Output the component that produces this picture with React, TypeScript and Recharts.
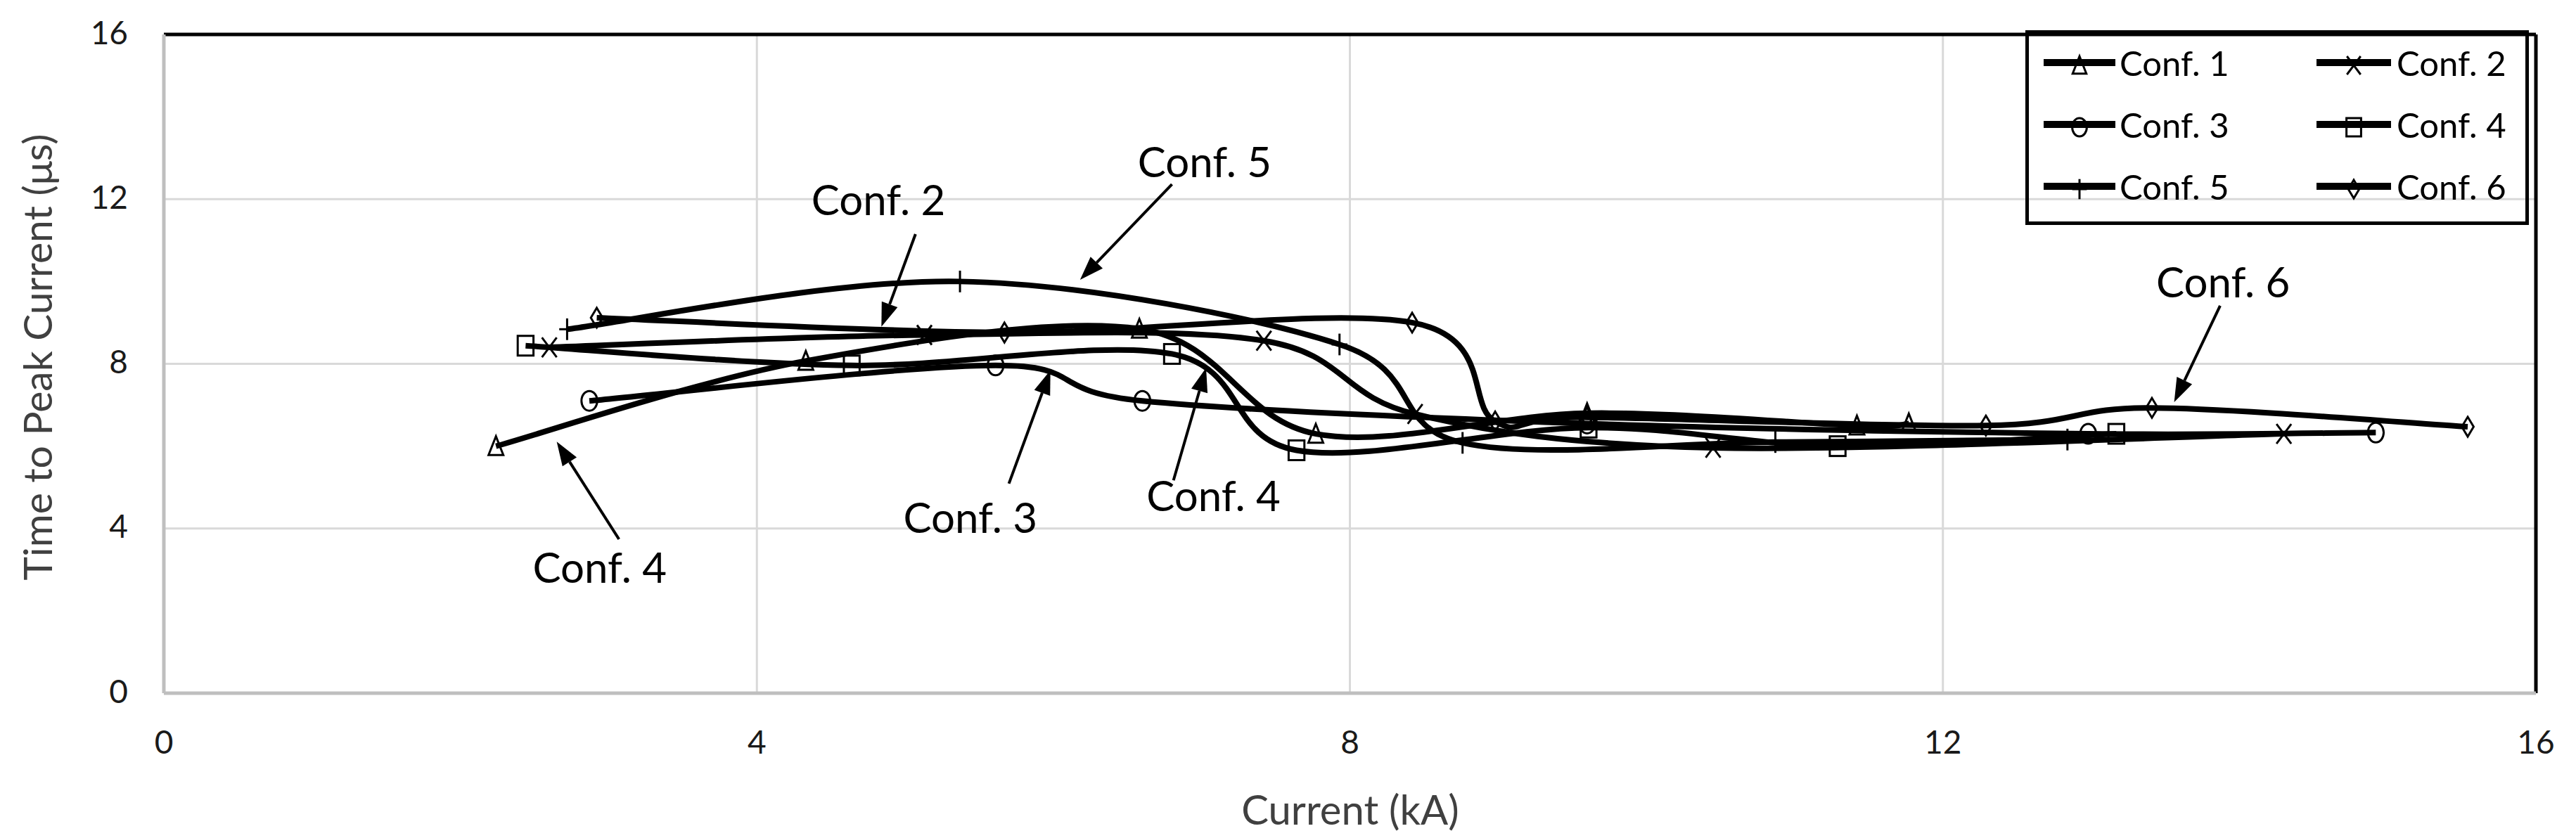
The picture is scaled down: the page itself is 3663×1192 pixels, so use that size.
import React from 'react';
import {
  LineChart,
  Line,
  XAxis,
  YAxis,
  CartesianGrid,
  ReferenceLine,
  ReferenceDot,
  Legend,
} from 'recharts';

// ---------- data ----------
const conf1X = [2.24, 4.33, 6.58, 7.77, 9.6, 11.42, 11.77];
const conf1Y = [6.0, 8.07, 8.85, 6.3, 6.8, 6.5, 6.55];

const conf2X = [2.6, 5.13, 7.42, 8.44, 10.45, 14.3];
const conf2Y = [8.4, 8.7, 8.56, 6.78, 5.96, 6.3];

const conf3X = [2.87, 5.61, 6.6, 9.6, 12.98, 14.92];
const conf3Y = [7.1, 7.96, 7.1, 6.55, 6.3, 6.33];

const conf4X = [2.44, 4.64, 6.8, 7.64, 9.61, 11.29, 13.17];
const conf4Y = [8.44, 7.96, 8.24, 5.9, 6.45, 6.0, 6.3];

const conf5X = [2.72, 5.37, 7.93, 8.76, 10.87, 12.84];
const conf5Y = [8.84, 10.0, 8.47, 6.08, 6.1, 6.16];

const conf6X = [2.92, 5.67, 8.42, 8.98, 9.6, 12.29, 13.41, 15.54];
const conf6Y = [9.12, 8.76, 9.0, 6.6, 6.7, 6.5, 6.93, 6.47];

const seriesNames = ['Conf. 1', 'Conf. 2', 'Conf. 3', 'Conf. 4', 'Conf. 5', 'Conf. 6'];
const seriesMarkers = ['triangle', 'x', 'circle', 'square', 'plus', 'diamond'];

const xTicks = [0, 4, 8, 12, 16];
const yTicks = [0, 4, 8, 12, 16];

const xTitle = 'Current (kA)';
const yTitle = 'Time to Peak Current (μs)';

// annotation labels with arrows (data units)
const annotLabels = ['Conf. 5', 'Conf. 2', 'Conf. 3', 'Conf. 4', 'Conf. 4', 'Conf. 6'];
const annotTextX = [7.02, 4.82, 5.44, 2.94, 7.08, 13.89];
const annotTextY = [12.93, 12.0, 4.29, 3.07, 4.82, 10.01];
const annotTailX = [6.8, 5.07, 5.7, 3.07, 6.81, 13.87];
const annotTailY = [12.36, 11.15, 5.09, 3.74, 5.17, 9.41];
const annotTipX = [6.18, 4.84, 5.98, 2.65, 7.03, 13.56];
const annotTipY = [10.04, 8.9, 7.84, 6.11, 7.9, 7.07];

// ---------- helpers ----------
const zip = (xs: number[], ys: number[]) => xs.map((x, i) => ({ x, y: ys[i] }));
const seriesData = [
  zip(conf1X, conf1Y),
  zip(conf2X, conf2Y),
  zip(conf3X, conf3Y),
  zip(conf4X, conf4Y),
  zip(conf5X, conf5Y),
  zip(conf6X, conf6Y),
];

// Excel-style smoothed line (Bezier with 1/6 neighbour tangents)
function excelSmooth(context: any) {
  let pts: number[][] = [];
  return {
    areaStart() {},
    areaEnd() {},
    lineStart() {
      pts = [];
    },
    point(x: number, y: number) {
      pts.push([+x, +y]);
    },
    lineEnd() {
      const n = pts.length;
      if (!n) return;
      context.moveTo(pts[0][0], pts[0][1]);
      for (let i = 0; i < n - 1; i++) {
        const p0 = pts[Math.max(i - 1, 0)];
        const p1 = pts[i];
        const p2 = pts[i + 1];
        const p3 = pts[Math.min(i + 2, n - 1)];
        context.bezierCurveTo(
          p1[0] + (p2[0] - p0[0]) / 6,
          p1[1] + (p2[1] - p0[1]) / 6,
          p2[0] - (p3[0] - p1[0]) / 6,
          p2[1] - (p3[1] - p1[1]) / 6,
          p2[0],
          p2[1]
        );
      }
    },
  };
}

function Marker({ kind, cx, cy, s = 28, sw = 3 }: any) {
  const h = s / 2;
  const c = { fill: 'none', stroke: '#000', strokeWidth: sw };
  switch (kind) {
    case 'triangle':
      return <polygon points={`${cx},${cy - h} ${cx + h * 0.75},${cy + h * 0.9} ${cx - h * 0.75},${cy + h * 0.9}`} {...c} />;
    case 'x':
      return (
        <g {...c}>
          <line x1={cx - h * 0.75} y1={cy - h} x2={cx + h * 0.75} y2={cy + h} />
          <line x1={cx + h * 0.75} y1={cy - h} x2={cx - h * 0.75} y2={cy + h} />
        </g>
      );
    case 'circle':
      return <ellipse cx={cx} cy={cy} rx={h * 0.8} ry={h} {...c} />;
    case 'square':
      return <rect x={cx - h * 0.8} y={cy - h} width={h * 1.6} height={2 * h} {...c} />;
    case 'plus':
      return (
        <g {...c}>
          <line x1={cx} y1={cy - h * 1.1} x2={cx} y2={cy + h * 1.1} />
          <line x1={cx - h * 0.8} y1={cy} x2={cx + h * 0.8} y2={cy} />
        </g>
      );
    case 'diamond':
      return <polygon points={`${cx},${cy - h} ${cx + h * 0.6},${cy} ${cx},${cy + h} ${cx - h * 0.6},${cy}`} {...c} />;
    default:
      return null;
  }
}

const SANS = 'Lato, "Open Sans", sans-serif';

const XTick = ({ x, y, payload }: any) => (
  <text x={x} y={y + 68} textAnchor="middle" dominantBaseline="central" fontFamily={SANS} fontSize={46} fill="#1a1a1a">
    {payload.value}
  </text>
);

const YTick = ({ x, y, payload }: any) => (
  <text x={x - 51} y={y - 4} textAnchor="end" dominantBaseline="central" fontFamily={SANS} fontSize={46} fill="#1a1a1a">
    {payload.value}
  </text>
);

const Arrow = (p: any) => {
  const { x1, y1, x2, y2 } = p;
  const dx = x2 - x1;
  const dy = y2 - y1;
  const len = Math.sqrt(dx * dx + dy * dy) || 1;
  const ux = dx / len;
  const uy = dy / len;
  const hl = 34;
  const hw = 12;
  const bx = x2 - ux * hl;
  const by = y2 - uy * hl;
  return (
    <g>
      <line x1={x1} y1={y1} x2={bx} y2={by} stroke="#000" strokeWidth={4} />
      <polygon
        points={`${x2},${y2} ${bx - uy * hw},${by + ux * hw} ${bx + uy * hw},${by - ux * hw}`}
        fill="#000"
      />
    </g>
  );
};

const LEG_W = 716;
const LEG_H = 277;

const LegendBox = () => {
  const rows = [46, 134, 222];
  const cols = [
    { l0: 26, l1: 128, t: 134 },
    { l0: 414, l1: 520, t: 528 },
  ];
  return (
    <div
      style={{
        position: 'relative',
        width: LEG_W,
        height: LEG_H,
        borderLeft: '5px solid #000',
        borderRight: '5px solid #000',
        borderBottom: '5px solid #000',
        borderTop: '7px solid #000',
        boxSizing: 'border-box',
        background: 'transparent',
      }}
    >
      <svg width={LEG_W} height={LEG_H} style={{ position: 'absolute', left: -5, top: -7 }}>
        {seriesNames.map((name, i) => {
          const r = rows[Math.floor(i / 2)];
          const c = cols[i % 2];
          const mx = (c.l0 + c.l1) / 2;
          return (
            <g key={name}>
              <line x1={c.l0} y1={r} x2={c.l1} y2={r} stroke="#000" strokeWidth={10} />
              <Marker kind={seriesMarkers[i]} cx={mx} cy={r + 4} s={26} />
              <text x={c.t} y={r} dominantBaseline="central" fontFamily={SANS} fontSize={49} fill="#000">
                {name}
              </text>
            </g>
          );
        })}
      </svg>
    </div>
  );
};

export default function App() {
  return (
    <div style={{ position: 'absolute', left: 0, top: 0, width: 3663, height: 1192, background: '#fff' }}>
      <LineChart width={3663} height={1192} margin={{ top: 49, right: 57, left: 0, bottom: 0 }}>
        <CartesianGrid stroke="#d9d9d9" strokeWidth={3} />
        <XAxis
          type="number"
          dataKey="x"
          domain={[0, 16]}
          ticks={xTicks}
          height={206}
          tickSize={0}
          tickMargin={0}
          tickLine={false}
          axisLine={{ stroke: '#bfbfbf', strokeWidth: 5 }}
          tick={<XTick />}
          allowDuplicatedCategory={false}
          label={{
            content: () => (
              <text x={1920} y={1150} textAnchor="middle" dominantBaseline="central" fontFamily={SANS} fontSize={58} fill="#404040">
                {xTitle}
              </text>
            ),
          }}
        />
        <YAxis
          type="number"
          dataKey="y"
          domain={[0, 16]}
          ticks={yTicks}
          width={233}
          tickSize={0}
          tickMargin={0}
          tickLine={false}
          axisLine={{ stroke: '#bfbfbf', strokeWidth: 5 }}
          tick={<YTick />}
          label={{
            content: () => (
              <text
                x={52}
                y={508}
                transform="rotate(-90 52 508)"
                textAnchor="middle"
                dominantBaseline="central"
                fontFamily={SANS}
                fontSize={57}
                fill="#404040"
              >
                {yTitle}
              </text>
            ),
          }}
        />
        <ReferenceLine y={16} stroke="#000" strokeWidth={5} />
        <ReferenceLine x={16} stroke="#000" strokeWidth={5} />
        {seriesData.map((d, i) => (
          <Line
            key={seriesNames[i]}
            name={seriesNames[i]}
            data={d}
            dataKey="y"
            type={excelSmooth as any}
            stroke="#000"
            strokeWidth={8}
            isAnimationActive={false}
            activeDot={false}
            dot={(p: any) => <Marker key={`${i}-${p.index}`} kind={seriesMarkers[i]} cx={p.cx} cy={p.cy} />}
          />
        ))}
        {annotLabels.map((lab, i) => (
          <ReferenceLine
            key={`arrow-${i}`}
            segment={[
              { x: annotTailX[i], y: annotTailY[i] },
              { x: annotTipX[i], y: annotTipY[i] },
            ]}
            shape={Arrow}
          />
        ))}
        {annotLabels.map((lab, i) => (
          <ReferenceDot
            key={`lab-${i}`}
            x={annotTextX[i]}
            y={annotTextY[i]}
            r={0}
            shape={(p: any) => (
              <text x={p.cx} y={p.cy} textAnchor="middle" dominantBaseline="central" fontFamily={SANS} fontSize={60} fill="#000">
                {lab}
              </text>
            )}
          />
        ))}
        <Legend
          layout="horizontal"
          verticalAlign="middle"
          align="center"
          wrapperStyle={{ position: 'absolute', left: 2880, top: 43, width: LEG_W, height: LEG_H }}
          content={() => <LegendBox />}
        />
      </LineChart>
    </div>
  );
}
